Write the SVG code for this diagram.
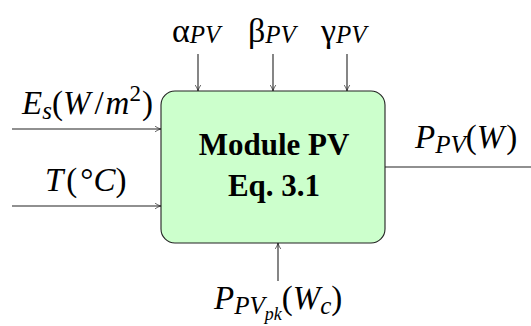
<svg xmlns="http://www.w3.org/2000/svg" width="531" height="326" viewBox="0 0 531 326">
<defs>
<marker id="arr" viewBox="0 0 10 10" refX="9.5" refY="5" markerWidth="7" markerHeight="7" orient="auto" markerUnits="userSpaceOnUse">
<path d="M1,1 Q5,4 9.5,5 Q5,6 1,9" fill="none" stroke="#222" stroke-width="1"/>
</marker>
</defs>
<style>
.ln{stroke:#222;stroke-width:1.1;fill:none}
.t{font-family:"Liberation Serif","Times New Roman",serif;fill:#000}
.m{font-size:33px}
.g{font-size:34px}
.i{font-style:italic}
.s{font-style:italic;font-size:25px}
.b{font-weight:bold;font-size:31px}
</style>
<g id="connectors">
<line class="ln" x1="198" y1="54" x2="198" y2="91" marker-end="url(#arr)"/>
<line class="ln" x1="273" y1="54" x2="273" y2="91" marker-end="url(#arr)"/>
<line class="ln" x1="347" y1="54" x2="347" y2="91" marker-end="url(#arr)"/>
<line class="ln" x1="12" y1="129" x2="161" y2="129" marker-end="url(#arr)"/>
<line class="ln" x1="12" y1="206" x2="161" y2="206" marker-end="url(#arr)"/>
<line class="ln" x1="385" y1="167" x2="531" y2="167"/>
<line class="ln" x1="278" y1="281" x2="278" y2="243" marker-end="url(#arr)"/>
</g>
<g id="module">
<rect x="161" y="91" width="224" height="152" rx="14" fill="#ccffcc" stroke="#222" stroke-width="1.1"/>
<text class="t b" x="274" y="155" text-anchor="middle">Module PV</text>
<text class="t b" x="274" y="196" text-anchor="middle">Eq. 3.1</text>
</g>
<g id="alpha">
<text class="t g" x="172" y="42">α<tspan class="s" dy="1">PV</tspan></text>
</g>
<g id="beta">
<text class="t g" x="248" y="42">β<tspan class="s" dy="1">PV</tspan></text>
</g>
<g id="gamma">
<text class="t g" x="321" y="42">γ<tspan class="s" dy="1">PV</tspan></text>
</g>
<g id="es">
<text class="t m" x="22" y="114"><tspan class="i">E</tspan><tspan class="s" dy="5">s</tspan><tspan dy="-5">(</tspan><tspan class="i">W</tspan><tspan dx="4">/</tspan><tspan class="i" dx="2">m</tspan><tspan font-size="23" dy="-13">2</tspan><tspan dy="13" dx="1">)</tspan></text>
</g>
<g id="temp">
<text class="t m" x="45" y="191"><tspan class="i">T</tspan><tspan dx="3">(</tspan><tspan dx="3">°</tspan><tspan class="i">C</tspan><tspan>)</tspan></text>
</g>
<g id="ppv">
<text class="t m" x="415" y="148"><tspan class="i">P</tspan><tspan class="s" dy="5">PV</tspan><tspan dy="-5">(</tspan><tspan class="i">W</tspan><tspan dx="2">)</tspan></text>
</g>
<g id="ppk">
<text class="t m" x="214" y="309"><tspan class="i">P</tspan><tspan class="s" dy="5">PV</tspan><tspan class="i" font-size="18" dy="6">pk</tspan><tspan dy="-11">(</tspan><tspan class="i">W</tspan><tspan class="s" dy="5">c</tspan><tspan dy="-5">)</tspan></text>
</g>
</svg>
